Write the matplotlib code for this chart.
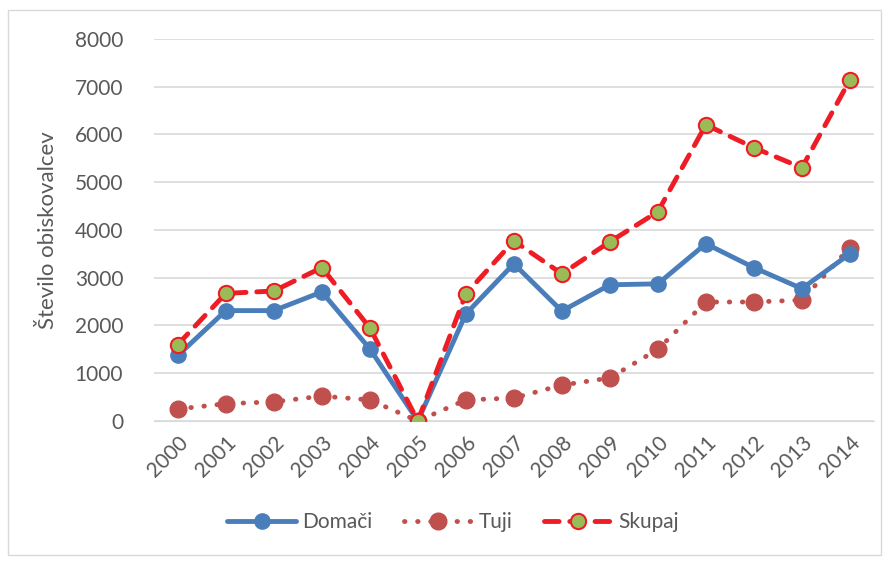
import matplotlib.pyplot as plt
from matplotlib.patches import Rectangle

plt.rcParams['font.family'] = ['Lato', 'DejaVu Sans']

leta = [str(l) for l in range(2000, 2015)]
domaci = [1370, 2310, 2310, 2700, 1510, 0, 2240, 3290, 2300, 2850, 2870, 3710, 3210, 2770, 3500]
tuji = [250, 360, 400, 520, 440, 0, 440, 480, 750, 900, 1500, 2490, 2490, 2530, 3630]
skupaj = [1600, 2670, 2720, 3210, 1950, 0, 2660, 3770, 3080, 3750, 4380, 6200, 5720, 5300, 7140]

siva = '#595959'

fig = plt.figure(figsize=(8.89, 5.62), dpi=100)
ax = fig.add_axes([0.173, 0.251, 0.81, 0.680])
fig.patches.append(Rectangle((0.009, 0.012), 0.982, 0.97, transform=fig.transFigure,
                             fill=False, edgecolor='#D9D9D9', linewidth=1))

x = range(len(leta))
ax.plot(x, domaci, color='#4A7EBB', lw=3.5, marker='o', ms=11,
        solid_capstyle='round', label='Domači', zorder=3)
ax.plot(x, tuji, color='#C0504D', lw=3.5, ls=(0, (0.1, 2.6)), marker='o', ms=12,
        dash_capstyle='round', label='Tuji', zorder=2)
ax.plot(x, skupaj, color='#EE1C25', lw=3.5, ls=(0, (3, 2.2)), marker='o', ms=11,
        markerfacecolor='#9BBB59', markeredgecolor='#EE1C25', markeredgewidth=1.5,
        dash_capstyle='round', label='Skupaj', zorder=4)

ax.set_xlim(-0.5, len(leta) - 0.5)
ax.set_ylim(0, 8000)
ax.set_yticks(range(0, 8001, 1000))
ax.set_xticks(list(x))
ax.set_xticklabels(leta, rotation=45, ha='right', rotation_mode='anchor')
ax.tick_params(axis='both', length=0, colors=siva, labelsize=15)
ax.tick_params(axis='y', pad=22)
ax.tick_params(axis='x', pad=8)
ax.grid(axis='y', color='#D9D9D9', lw=1.2)
ax.set_axisbelow(True)
for s in ['top', 'right', 'left']:
    ax.spines[s].set_visible(False)
ax.spines['bottom'].set_color('#D9D9D9')
ax.set_ylabel('Število obiskovalcev', color=siva, fontsize=16, labelpad=12)

fig.legend(loc='lower center', bbox_to_anchor=(0.51, 0.02), ncol=3, frameon=False,
           fontsize=15, labelcolor=siva, handlelength=3.3, columnspacing=1.5,
           handletextpad=0.3)

plt.savefig('out.png', dpi=100)
